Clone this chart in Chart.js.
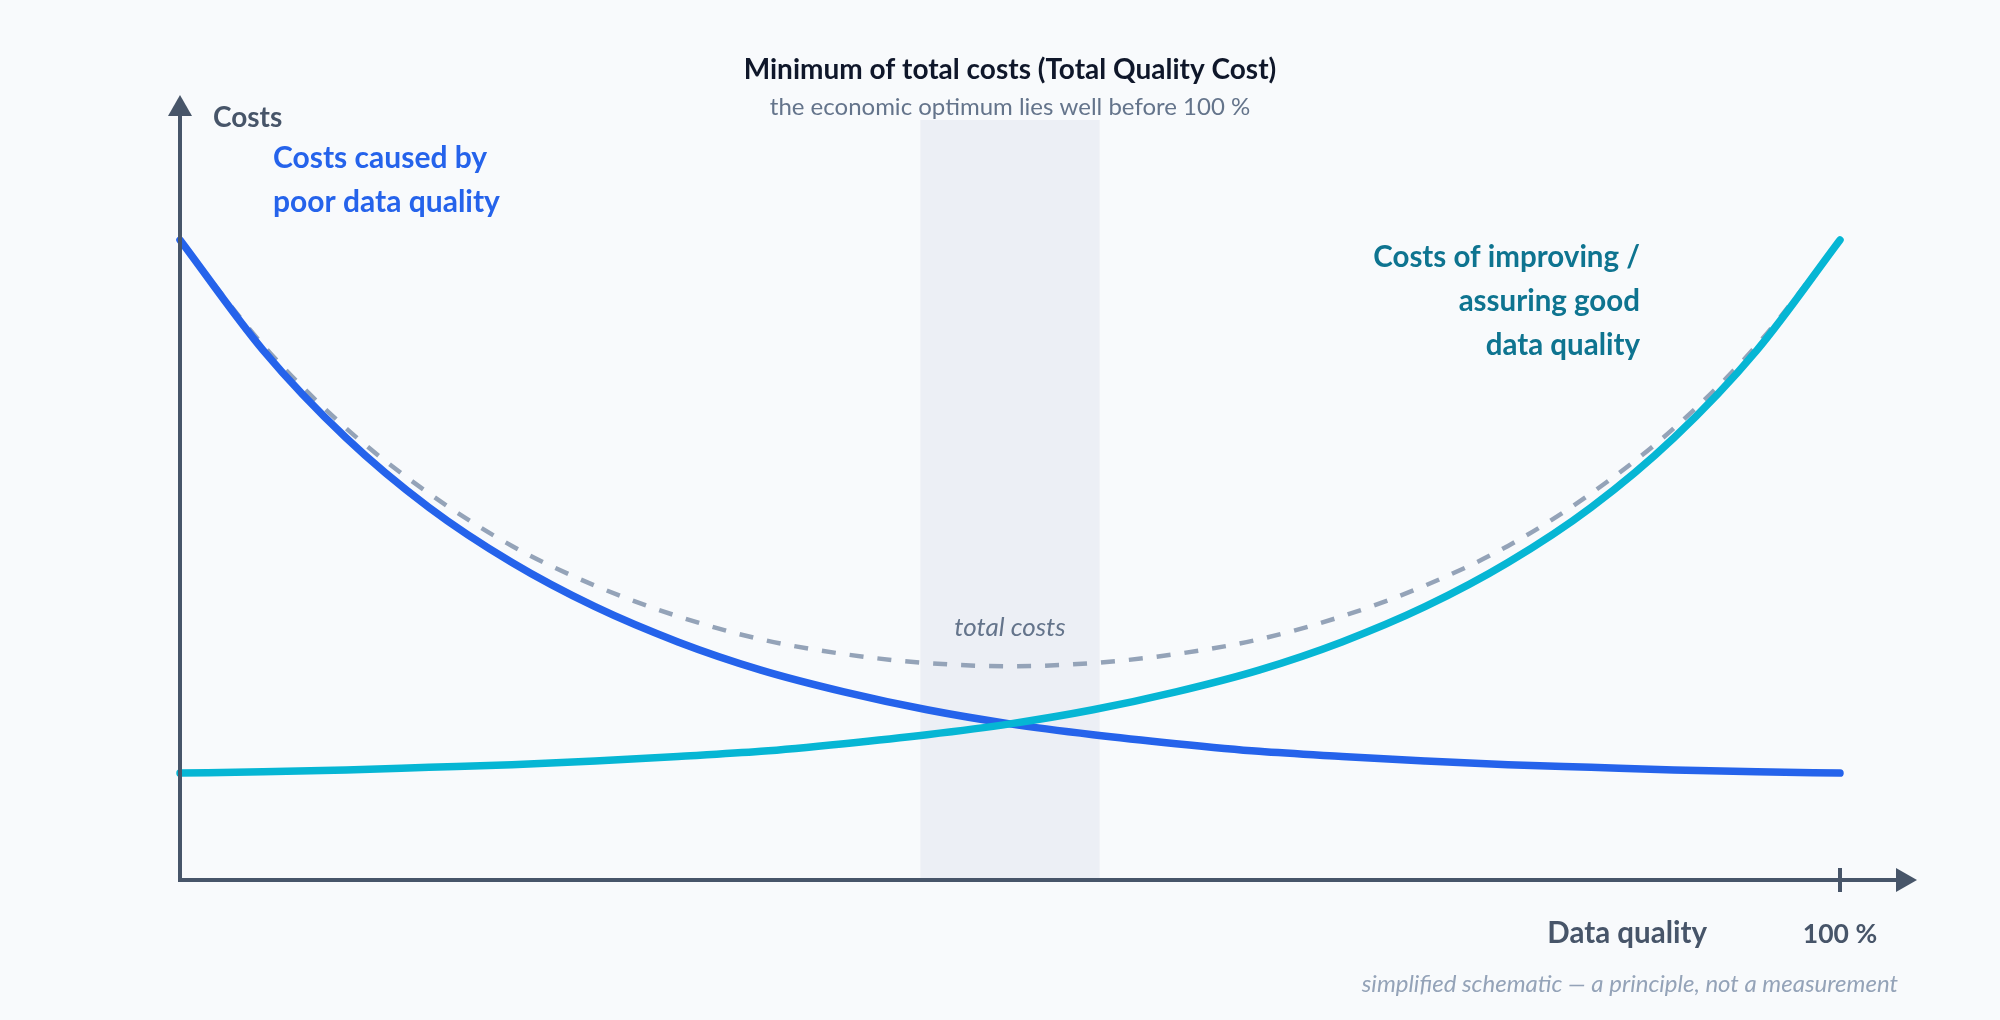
<!DOCTYPE html>
<html>
<head>
<meta charset="utf-8">
<script src="https://cdn.jsdelivr.net/npm/chart.js@4.4.1/dist/chart.umd.min.js"></script>
<style>
  html, body { margin: 0; padding: 0; background: #f8fafc; }
  #wrap { position: relative; width: 2000px; height: 1020px; }
</style>
</head>
<body>
<div id="wrap"><canvas id="tqc" width="2000" height="1020"></canvas></div>
<script>
// --- data (x = data quality in %, y = relative costs) ---
const quality = [0, 5, 10, 15, 20, 25, 30, 35, 40, 45, 50, 55, 60, 65, 70, 75, 80, 85, 90, 95, 100];
const poorQualityCosts = [100.0, 82.8, 69.1, 58.2, 49.6, 42.7, 37.2, 32.8, 29.4, 26.6, 24.4, 22.7, 21.3, 20.1, 19.3, 18.6, 18.0, 17.6, 17.2, 16.9, 16.7];
const assuranceCosts = [16.7, 16.9, 17.2, 17.6, 18.0, 18.6, 19.3, 20.1, 21.3, 22.7, 24.4, 26.6, 29.4, 32.8, 37.2, 42.7, 49.6, 58.2, 69.1, 82.8, 100.0];
const totalCosts = [100.0, 83.6, 70.6, 60.4, 52.2, 46.0, 41.2, 37.6, 35.3, 33.9, 33.4, 33.9, 35.3, 37.6, 41.2, 46.0, 52.2, 60.4, 70.6, 83.6, 100.0];
const optimumBand = [44.6, 55.4];
const qualityMax = 100;

const titleText = 'Minimum of total costs (Total Quality Cost)';
const subtitleText = 'the economic optimum lies well before 100 %';
const yAxisLabel = 'Costs';
const xAxisLabel = 'Data quality';
const xMaxLabel = '100 %';
const poorLabel = ['Costs caused by', 'poor data quality'];
const assureLabel = ['Costs of improving /', 'assuring good', 'data quality'];
const totalLabel = 'total costs';
const footnote = 'simplified schematic \u2014 a principle, not a measurement';

const FONT = 'Lato, "Open Sans", sans-serif';
const AXIS = '#475569';

function pts(ys) {
    return quality.map((q, i) => ({ x: q, y: ys[i] }));
}

function text(ctx, str, x, y, font, color, align) {
    ctx.font = font;
    ctx.fillStyle = color;
    ctx.textAlign = align || 'left';
    ctx.textBaseline = 'alphabetic';
    ctx.fillText(str, x, y);
}

const schematicPlugin = {
    id: 'schematic',
    beforeDatasetsDraw(chart) {
        const { ctx, chartArea, scales: { x, y } } = chart;
        // optimum zone
        const bx1 = x.getPixelForValue(optimumBand[0]);
        const bx2 = x.getPixelForValue(optimumBand[1]);
        ctx.save();
        ctx.fillStyle = '#eceff5';
        ctx.fillRect(bx1, chartArea.top, bx2 - bx1, y.getPixelForValue(0) - chartArea.top);
        ctx.restore();
    },
    afterDatasetsDraw(chart) {
        const { ctx, scales: { x, y } } = chart;
        const x0 = x.getPixelForValue(0);
        const y0 = y.getPixelForValue(0);
        const xEnd = x.getPixelForValue(qualityMax);

        ctx.save();
        ctx.strokeStyle = AXIS;
        ctx.fillStyle = AXIS;
        ctx.lineWidth = 4;
        ctx.lineCap = 'butt';

        // y axis with arrow
        ctx.beginPath();
        ctx.moveTo(x0, y0 + 2);
        ctx.lineTo(x0, 112);
        ctx.stroke();
        ctx.beginPath();
        ctx.moveTo(x0, 95);
        ctx.lineTo(x0 - 12, 116);
        ctx.lineTo(x0 + 12, 116);
        ctx.closePath();
        ctx.fill();

        // x axis with arrow
        ctx.beginPath();
        ctx.moveTo(x0 - 2, y0);
        ctx.lineTo(1900, y0);
        ctx.stroke();
        ctx.beginPath();
        ctx.moveTo(1917, y0);
        ctx.lineTo(1896, y0 - 12);
        ctx.lineTo(1896, y0 + 12);
        ctx.closePath();
        ctx.fill();

        // 100 % tick
        ctx.beginPath();
        ctx.moveTo(xEnd, y0 - 12);
        ctx.lineTo(xEnd, y0 + 12);
        ctx.stroke();

        // texts
        const mid = x.getPixelForValue((optimumBand[0] + optimumBand[1]) / 2);
        text(ctx, titleText, mid, 79, 'bold 28px ' + FONT, '#0f172a', 'center');
        text(ctx, subtitleText, mid, 115, '24px ' + FONT, '#64748b', 'center');
        text(ctx, yAxisLabel, x0 + 33, 127, 'bold 28px ' + FONT, AXIS);

        poorLabel.forEach((l, i) => text(ctx, l, x0 + 93, 168 + i * 44, 'bold 30px ' + FONT, '#2563eb'));
        assureLabel.forEach((l, i) => text(ctx, l, 1640, 267 + i * 44, 'bold 29.5px ' + FONT, '#0e7490', 'right'));

        text(ctx, totalLabel, mid, 636, 'italic 26px ' + FONT, '#64748b', 'center');
        text(ctx, xAxisLabel, 1707, 943, 'bold 29.5px ' + FONT, AXIS, 'right');
        text(ctx, xMaxLabel, xEnd, 943, 'bold 26.5px ' + FONT, AXIS, 'center');
        text(ctx, footnote, 1898, 992, 'italic 24px ' + FONT, '#94a3b8', 'right');
        ctx.restore();
    }
};

new Chart(document.getElementById('tqc'), {
    type: 'line',
    data: {
        datasets: [
            {
                label: 'Costs of improving / assuring good data quality',
                data: pts(assuranceCosts),
                borderColor: '#06b6d4',
                borderWidth: 7.5,
                borderCapStyle: 'round',
                cubicInterpolationMode: 'monotone',
                clip: false
            },
            {
                label: 'Costs caused by poor data quality',
                data: pts(poorQualityCosts),
                borderColor: '#2563eb',
                borderWidth: 7.5,
                borderCapStyle: 'round',
                cubicInterpolationMode: 'monotone',
                clip: false
            },
            {
                label: 'total costs',
                data: pts(totalCosts),
                borderColor: '#94a3b8',
                borderWidth: 4.5,
                borderDash: [14, 14],
                cubicInterpolationMode: 'monotone',
                clip: false
            }
        ]
    },
    options: {
        responsive: false,
        animation: false,
        devicePixelRatio: 1,
        layout: { padding: { left: 180, right: 160, top: 120, bottom: 140 } },
        elements: { point: { radius: 0 } },
        plugins: { legend: { display: false }, tooltip: { enabled: false } },
        scales: {
            x: { type: 'linear', min: 0, max: 100, display: false },
            y: { min: 0, max: 118.75, display: false }
        }
    },
    plugins: [schematicPlugin]
});
</script>
</body>
</html>
